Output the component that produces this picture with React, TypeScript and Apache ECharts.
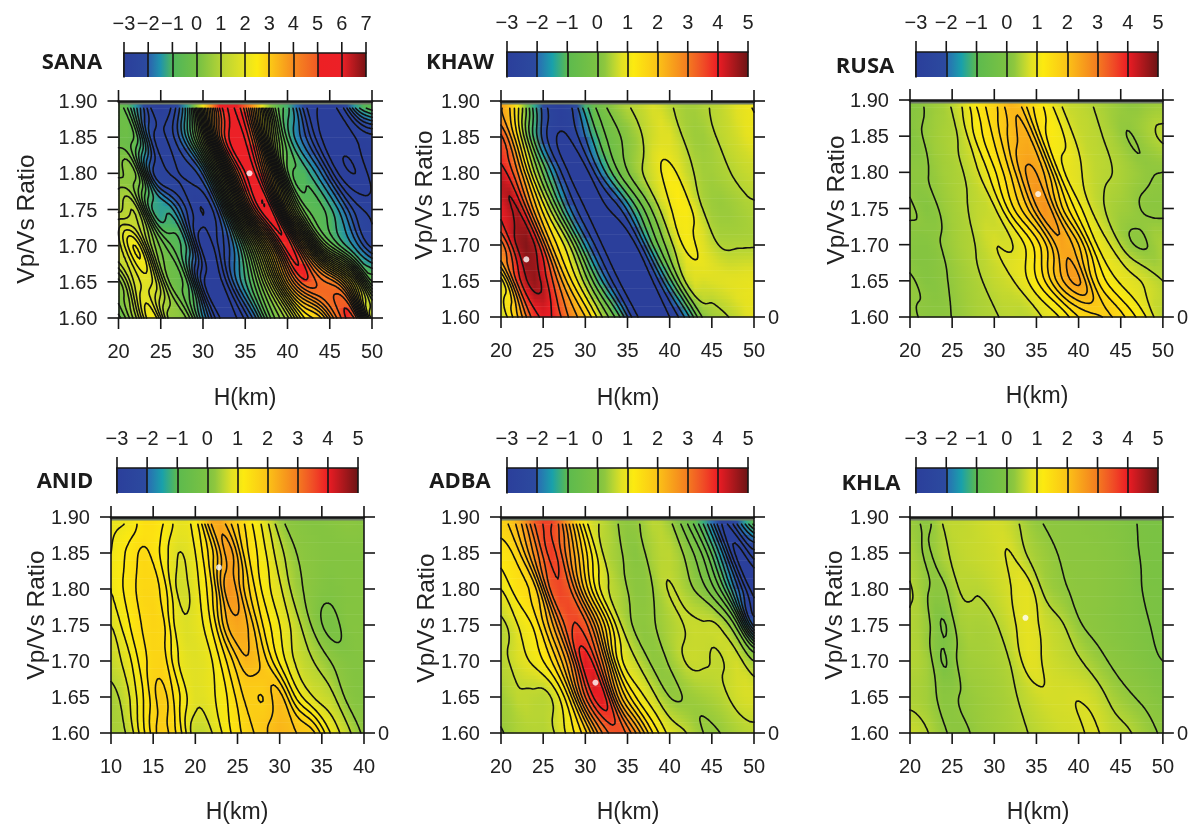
import React, { useEffect, useRef } from "react";
import * as echarts from "echarts";

// Vp/Vs rows of every field, top to bottom
const vpvsRows = [1.9, 1.85, 1.8, 1.75, 1.7, 1.65, 1.6];
const vpvsTicks = [1.6, 1.65, 1.7, 1.75, 1.8, 1.85, 1.9];

const sanaField = [
  [-0.2, -1.5, -3, -2.8, -1.2, 2.5, 5.4, 5.5, 3.5, 0, -1.2, -2.7, -3, -2.8, -1, -0.3],
  [-0.2, -0.4, -2.6, -2.6, -1.5, 0.8, 4.8, 5.9, 4.8, 1.2, -1, -2, -3, -3.2, -3, -2.8],
  [0.2, 0.3, -2.3, -2.7, -2.6, -2, 1, 4.8, 5.8, 3.5, -0.5, -1, -1.8, -3, -3.3, -2.9],
  [0.8, 1.1, -1.2, -1.3, -2.4, -3, -2, 1.5, 5, 5.8, 2, -0.4, -0.8, -1.5, -2.5, -2.8],
  [1.4, 2.4, 0.5, -0.5, -1.2, -3.2, -2.6, -1.5, 0.8, 3.4, 5.6, 3.5, 0.5, -0.8, -1.6, -2.5],
  [0.2, 1.6, 1.8, 0, -0.5, -2.9, -3.1, -1.8, -0.6, 1.2, 3.6, 5, 4.6, 4, 2, -0.6],
  [-0.4, 0.8, 2.4, 0.5, 0.3, -1.5, -3, -3, -2, -0.3, 0.8, 2.4, 3, 4.6, 5, 1],
];
const khawField = [
  [2.6, 1, -1.5, -2.8, -2.6, -1, -0.05, 0.42, 0.55, 0.75, 0.52, 0.38, 0.47, 0.6, 0.85, 1.05],
  [3.6, 1.5, -1.2, -2.8, -3, -2, -0.7, -0.05, 0.35, 0.7, 0.8, 0.42, 0.35, 0.55, 0.7, 0.95],
  [4.3, 3, 0.5, -1.5, -3, -3.2, -1.8, -0.5, 0.3, 0.72, 1.15, 0.65, 0.38, 0.42, 0.55, 0.65],
  [4, 4.5, 2.3, 0.3, -1.8, -3, -3.1, -2.6, -1.1, 0.1, 0.95, 1.15, 0.48, 0.32, 0.38, 0.48],
  [2.8, 4.6, 4.5, 2, 0.6, -1.6, -3, -3.3, -3, -1, 0.3, 1.1, 0.8, 0.48, 0.47, 0.48],
  [0.8, 3.7, 4.7, 3.6, 1.8, 0.3, -1.5, -3, -3.1, -3, -1.2, 0.6, 0.75, 0.8, 0.85, 0.9],
  [0.6, 2, 3.8, 4, 3, 2, 0.5, -0.9, -2.9, -3, -3, -1.8, 0.1, 0.4, 0.6, 0.9],
];
const rusaField = [
  [0.12, 0.3, 0.42, 0.75, 1.35, 1.7, 2.2, 1.6, 1.15, 0.7, 0.58, 0.47, 0.35, 0.23, 0.3, 0.35],
  [0.1, 0.3, 0.42, 0.55, 1.1, 1.55, 2.1, 2.3, 1.3, 1.05, 0.65, 0.55, 0.42, 0.24, 0.38, 0.55],
  [0.22, 0.24, 0.38, 0.47, 0.72, 1.2, 1.8, 2.55, 2.2, 1.1, 0.8, 0.58, 0.5, 0.38, 0.27, 0.25],
  [0.3, 0.12, 0.32, 0.44, 0.58, 0.72, 1.4, 2, 2.7, 1.8, 1.1, 0.65, 0.42, 0.33, 0.22, 0.2],
  [0.15, 0.12, 0.28, 0.42, 0.52, 0.74, 0.73, 1.1, 1.7, 2.45, 2, 1.05, 0.7, 0.3, 0.24, 0.45],
  [0.3, 0.12, 0.22, 0.35, 0.46, 0.6, 0.72, 1, 1.5, 2.2, 2.55, 1.6, 1.1, 0.85, 0.7, 0.5],
  [0.3, 0.2, 0.22, 0.3, 0.42, 0.48, 0.55, 0.55, 0.8, 1.05, 1.5, 1.7, 1.75, 1.4, 1, 0.52],
];
const anidField = [
  [0.9, 1, 1.45, 1.3, 0.9, 1.2, 2.4, 2, 1.4, 0.9, 0.3, 0.15, 0.1, 0.15, 0.2, 0.15],
  [1, 1.3, 1.55, 1.2, 0.75, 1, 1.7, 2.6, 1.6, 1.1, 0.6, 0.25, 0.15, 0.1, 0.1, 0.1],
  [1, 1.35, 1.6, 1.45, 0.7, 0.9, 1.5, 2.7, 1.9, 1.2, 0.8, 0.35, 0.15, 0.05, 0.1, 0.1],
  [0.75, 1.2, 1.55, 1.6, 0.85, 0.85, 1.3, 2.3, 2.3, 1.5, 1, 0.6, 0.2, -0.1, 0.1, 0.1],
  [0.6, 0.9, 1.45, 1.65, 1, 0.8, 1, 1.6, 2.2, 1.9, 1.2, 0.7, 0.5, 0.25, 0.1, 0.1],
  [0.4, 0.7, 1.3, 1.85, 1.3, 0.8, 0.95, 1.3, 1.8, 1.75, 2.1, 1.2, 0.75, 0.6, 0.2, 0.1],
  [0.4, 0.55, 1.25, 1.85, 1.4, 0.6, 0.75, 1.2, 1.6, 1.9, 2.2, 2, 1.8, 1, 0.6, 0.2],
];
const adbaField = [
  [1.7, 2.3, 3.4, 3.6, 2.3, 0.9, 0.55, 0.28, 0.27, 0.55, 0.3, -0.4, -1.4, -2.7, -1.8, -0.4],
  [1.3, 1.7, 2.8, 3.7, 2.8, 1.6, 0.62, 0.35, 0.15, 0.45, 0.55, 0.2, -0.4, -1.6, -3.1, -2.5],
  [0.9, 1.4, 1.7, 3.4, 3.4, 2, 0.8, 0.45, 0.2, 0.3, 0.62, 0.4, 0.1, -0.6, -2, -3.2],
  [0.5, 0.9, 1.3, 2.3, 3.5, 3.4, 2, 0.7, 0.25, 0.28, 0.45, 0.62, 0.62, 0.55, -0.2, -2.5],
  [0.5, 0.75, 1, 1.5, 2.6, 4.1, 3, 1.1, 0.62, 0.25, 0.33, 0.62, 0.62, 0.58, 0.7, 0.3],
  [0.35, 0.58, 0.55, 0.62, 1.5, 3.3, 4.1, 2.3, 1.2, 0.7, 0.3, 0.32, 0.4, 0.5, 0.7, 0.75],
  [0.28, 0.45, 0.5, 0.55, 1, 1.7, 3, 3.5, 2.7, 1.5, 0.8, 0.6, 0.3, 0.3, 0.45, 0.55],
];
const khlaField = [
  [0.35, 0.2, 0.55, 0.58, 0.65, 0.7, 0.6, 0.33, 0.23, 0.2, 0.17, 0.14, 0.1, 0.04, -0.05, -0.02],
  [0.45, 0.22, 0.45, 0.58, 0.63, 0.68, 0.75, 0.47, 0.33, 0.23, 0.2, 0.18, 0.14, 0.07, -0.04, -0.06],
  [0.52, 0.27, 0.22, 0.52, 0.52, 0.62, 0.75, 0.85, 0.42, 0.28, 0.22, 0.2, 0.14, 0.08, -0.02, -0.06],
  [0.5, 0.32, -0.02, 0.4, 0.42, 0.47, 0.68, 0.88, 0.66, 0.53, 0.28, 0.2, 0.14, 0.08, 0.02, -0.06],
  [0.5, 0.38, -0.02, 0.32, 0.38, 0.42, 0.52, 0.85, 0.72, 0.62, 0.53, 0.35, 0.22, 0.14, 0.06, 0],
  [0.45, 0.38, 0.18, 0.26, 0.33, 0.38, 0.45, 0.6, 0.72, 0.72, 0.74, 0.65, 0.42, 0.28, 0.2, 0.1],
  [0.65, 0.52, 0.28, 0.2, 0.3, 0.36, 0.42, 0.5, 0.6, 0.68, 0.72, 0.78, 0.6, 0.52, 0.35, 0.22],
];

// colour palettes: value -> colour
const paletteWide: [number, string][] = [
  [-3, "#2b3f9b"], [-2.02, "#2c4a9f"], [-2, "#2d5fae"], [-1.5, "#1f93ad"], [-1, "#4fb65a"], [0, "#72bf44"],
  [1, "#b5d335"], [2, "#e6e322"], [2.5, "#fcea10"], [3, "#fccb16"], [4, "#f68b1f"], [5, "#f15a24"],
  [5.05, "#ed2024"], [6, "#ec2027"], [7, "#7a1315"],
];
const paletteNarrow: [number, string][] = [
  [-3, "#2b3f9b"], [-2.02, "#2c4a9f"], [-2, "#2b6ab3"], [-1.5, "#19a0ab"], [-1, "#5cba4e"], [0, "#7cc242"],
  [0.25, "#8fc73e"], [0.5, "#b4d434"], [0.8, "#e0e024"], [1.2, "#fcea10"], [2, "#fbc317"], [3, "#f47b20"], [3.5, "#f04e26"],
  [4, "#ed1c24"], [5, "#6d1415"],
];

const panels = [
  { name: "SANA", field: sanaField, xMin: 20, palette: paletteWide, barMax: 7, best: [35.5, 1.8], zero: false, step: 0.3, shear: 2,
    plot: [118.5, 101, 253.5, 217], bar: [124, 53, 242, 24], nameAt: [72, 60], yLab: [25, 219], xLab: [245, 397] },
  { name: "KHAW", field: khawField, xMin: 20, palette: paletteNarrow, barMax: 5, best: [23, 1.68], zero: true, step: 0.5, shear: 2,
    plot: [501, 101, 253, 216], bar: [507, 52, 241, 25], nameAt: [460, 60], yLab: [423, 195], xLab: [628, 397] },
  { name: "RUSA", field: rusaField, xMin: 20, palette: paletteNarrow, barMax: 5, best: [35.2, 1.77], zero: true, step: 0.25, shear: 2,
    plot: [910, 100, 253, 217], bar: [916, 52, 242, 25], nameAt: [865, 64], yLab: [835, 200], xLab: [1037, 395] },
  { name: "ANID", field: anidField, xMin: 10, palette: paletteNarrow, barMax: 5, best: [22.8, 1.83], zero: true, step: 0.25, shear: 1.2,
    plot: [111, 517, 253, 216], bar: [117, 468, 241, 25], nameAt: [65, 479], yLab: [35, 615], xLab: [237, 811] },
  { name: "ADBA", field: adbaField, xMin: 20, palette: paletteNarrow, barMax: 5, best: [31.2, 1.67], zero: true, step: 0.3, shear: 1.6,
    plot: [501, 517, 253, 216], bar: [507, 468, 241, 25], nameAt: [460, 479], yLab: [425, 618], xLab: [628, 811] },
  { name: "KHLA", field: khlaField, xMin: 20, palette: paletteNarrow, barMax: 5, best: [33.7, 1.76], zero: true, step: 0.25, shear: 1.2,
    plot: [910, 517, 254, 216], bar: [916, 468, 242, 25], nameAt: [871, 481], yLab: [833, 615], xLab: [1038, 811] },
];

const FONT = '"Liberation Sans", Arial, sans-serif';
const INK = "#161616";
const TICK = 11;

function hexRgb(h: string) {
  return [parseInt(h.slice(1, 3), 16), parseInt(h.slice(3, 5), 16), parseInt(h.slice(5, 7), 16)];
}
function colourOf(v: number, pal: [number, string][]) {
  if (v <= pal[0][0]) return pal[0][1];
  for (let i = 1; i < pal.length; i++) {
    if (v <= pal[i][0]) {
      const t = (v - pal[i - 1][0]) / (pal[i][0] - pal[i - 1][0]);
      const a = hexRgb(pal[i - 1][1]);
      const b = hexRgb(pal[i][1]);
      return `rgb(${Math.round(a[0] + (b[0] - a[0]) * t)},${Math.round(a[1] + (b[1] - a[1]) * t)},${Math.round(a[2] + (b[2] - a[2]) * t)})`;
    }
  }
  return pal[pal.length - 1][1];
}

function spline(p: number[], tRaw: number) {
  const n = p.length;
  const t = Math.min(Math.max(tRaw, 0), n - 1);
  const i = Math.min(Math.floor(t), n - 2);
  const f = t - i;
  const a = p[Math.max(i - 1, 0)], b = p[i], c = p[i + 1], d = p[Math.min(i + 2, n - 1)];
  return 0.5 * (2 * b + (c - a) * f + (2 * a - 5 * b + 4 * c - d) * f * f + (3 * b - a - 3 * c + d) * f * f * f);
}

// smooth sampling of the measured matrix, following the slant of its ridges
const SUBX = 8;
const SUBY = 20;
function resample(field: number[][], shearKm: number) {
  const s = shearKm / 2;
  const rows: number[][] = [];
  const nRows = field.length, nCols = field[0].length;
  for (let j = 0; j <= (nRows - 1) * SUBY; j++) {
    const t = j / SUBY;
    const base = Math.min(Math.floor(t), nRows - 2);
    const r: number[] = [];
    for (let i = 0; i <= (nCols - 1) * SUBX; i++) {
      const u = i / SUBX;
      const column: number[] = [];
      for (let k = base - 1; k <= base + 2; k++) {
        const kk = Math.min(Math.max(k, 0), nRows - 1);
        column.push(spline(field[kk], u + s * (kk - t)));
      }
      r.push(spline(column, 1 + (t - base)));
    }
    rows.push(r);
  }
  return rows;
}

function contourPath(g: number[][], level: number, sx: (i: number) => number, sy: (j: number) => number, jStart: number) {
  const parts: string[] = [];
  const lerp = (a: number, b: number) => (level - a) / (b - a);
  for (let j = jStart; j < g.length - 1; j++) {
    for (let i = 0; i < g[0].length - 1; i++) {
      const a = g[j][i], b = g[j][i + 1], c = g[j + 1][i + 1], d = g[j + 1][i];
      const idx = (a >= level ? 1 : 0) | (b >= level ? 2 : 0) | (c >= level ? 4 : 0) | (d >= level ? 8 : 0);
      if (idx === 0 || idx === 15) continue;
      const T = () => [sx(i + lerp(a, b)), sy(j)];
      const R = () => [sx(i + 1), sy(j + lerp(b, c))];
      const B = () => [sx(i + lerp(d, c)), sy(j + 1)];
      const L = () => [sx(i), sy(j + lerp(a, d))];
      const segs: (() => number[])[][] = [];
      switch (idx) {
        case 1: case 14: segs.push([L, T]); break;
        case 2: case 13: segs.push([T, R]); break;
        case 3: case 12: segs.push([L, R]); break;
        case 4: case 11: segs.push([R, B]); break;
        case 6: case 9: segs.push([T, B]); break;
        case 7: case 8: segs.push([L, B]); break;
        case 5: segs.push([L, T], [R, B]); break;
        case 10: segs.push([T, R], [L, B]); break;
      }
      for (const [p, q] of segs) {
        const u = p(), v = q();
        parts.push(`M${u[0].toFixed(1)} ${u[1].toFixed(1)}L${v[0].toFixed(1)} ${v[1].toFixed(1)}`);
      }
    }
  }
  return parts.join("");
}

const tickLine = (x1: number, y1: number, x2: number, y2: number) => ({
  type: "line", silent: true, z2: 30,
  shape: { x1, y1, x2, y2 },
  style: { stroke: INK, lineWidth: 1.6 },
});

function buildOption() {
  const grid: any[] = [], xAxis: any[] = [], yAxis: any[] = [], series: any[] = [], graphic: any[] = [];
  const axisLine = { show: true, onZero: false, lineStyle: { color: INK, width: 1.6 } };
  const noTick = { show: false };
  const label = { color: "#222", fontFamily: FONT, fontSize: 20 };

  panels.forEach((p) => {
    const g = grid.length;
    const xMax = p.xMin + 30;
    const xTicks = [0, 5, 10, 15, 20, 25, 30].map((d) => p.xMin + d);
    const barTicks: number[] = [];
    for (let v = -3; v <= p.barMax; v++) barTicks.push(v);

    grid.push({ left: p.plot[0], top: p.plot[1], width: p.plot[2], height: p.plot[3] });
    grid.push({ left: p.bar[0], top: p.bar[1], width: p.bar[2], height: p.bar[3] });

    const x0 = xAxis.length;
    xAxis.push({
      type: "value", gridIndex: g, position: "bottom", min: p.xMin, max: xMax, interval: 5, z: 10,
      axisLine, axisTick: noTick, splitLine: { show: false },
      axisLabel: { ...label, margin: 23, showMinLabel: true, showMaxLabel: true },
    });
    xAxis.push({
      type: "value", gridIndex: g, position: "top", min: p.xMin, max: xMax, interval: 5, z: 10,
      axisLine: { ...axisLine, lineStyle: { color: INK, width: 2.6 } }, axisTick: noTick,
      splitLine: { show: false }, axisLabel: { show: false },
    });
    xAxis.push({
      type: "value", gridIndex: g + 1, position: "top", min: -3, max: p.barMax, interval: 1, z: 10,
      axisLine, axisTick: noTick,
      splitLine: { show: true, lineStyle: { color: INK, width: 1.6 } },
      axisLabel: {
        ...label, margin: 20, showMinLabel: true, showMaxLabel: true,
        formatter: (v: number) => (v < 0 ? "\u2212" + Math.abs(v) : String(v)),
      },
    });
    const y0 = yAxis.length;
    yAxis.push({
      type: "value", gridIndex: g, position: "left", min: 1.6, max: 1.9, interval: 0.05, z: 10,
      axisLine, axisTick: noTick, splitLine: { show: false },
      axisLabel: { ...label, margin: 21, showMinLabel: true, showMaxLabel: true, formatter: (v: number) => v.toFixed(2) },
    });
    yAxis.push({
      type: "value", gridIndex: g, position: "right", min: 1.6, max: 1.9, interval: 0.05, z: 10,
      axisLine, axisTick: noTick, splitLine: { show: false },
      axisLabel: p.zero
        ? { ...label, margin: 14, showMinLabel: true, formatter: (v: number) => (Math.abs(v - 1.6) < 1e-6 ? "0" : "") }
        : { show: false },
    });
    yAxis.push({
      type: "value", gridIndex: g + 1, min: 0, max: 1,
      axisLine, axisTick: noTick, splitLine: { show: false }, axisLabel: { show: false },
    });

    const fine = resample(p.field, p.shear);
    const nx = fine[0].length, ny = fine.length;
    const cells: number[][] = [];
    p.field.forEach((row, j) => row.forEach((v, i) => cells.push([p.xMin + i * 2, vpvsRows[j], v])));

    series.push({
      type: "custom", coordinateSystem: "cartesian2d", xAxisIndex: x0, yAxisIndex: y0, clip: false, silent: true, z: 2,
      data: cells,
      renderItem: (params: any, api: any) => {
        if (params.dataIndex !== 0) return null;
        const tl = api.coord([p.xMin, 1.9]);
        const br = api.coord([xMax, 1.6]);
        const sx = (i: number) => tl[0] + ((br[0] - tl[0]) * i) / (nx - 1);
        const sy = (j: number) => tl[1] + ((br[1] - tl[1]) * j) / (ny - 1);
        const children: any[] = [];
        for (let j = 0; j < ny - 1; j += 2) {
          const row = fine[j + 1 < ny ? j + 1 : j];
          const colorStops: any[] = [];
          for (let i = 0; i < nx; i += 4) colorStops.push({ offset: i / (nx - 1), color: colourOf(row[i], p.palette) });
          const yA = sy(j), yB = sy(Math.min(j + 2, ny - 1));
          children.push({
            type: "rect", silent: true,
            shape: { x: tl[0], y: yA, width: br[0] - tl[0], height: yB - yA + 0.6 },
            style: { fill: { type: "linear", x: 0, y: 0, x2: 1, y2: 0, colorStops, global: false } },
          });
        }
        const stripY = sy((ny - 1) * 0.0167);
        children.push({
          type: "rect", silent: true,
          shape: { x: tl[0], y: tl[1], width: br[0] - tl[0], height: stripY - tl[1] },
          style: { fill: "#6f7a68" },
        });
        const jStart = Math.round((ny - 1) * (0.01 / 0.3));
        let lo = Infinity, hi = -Infinity;
        fine.forEach((r) => r.forEach((v) => { if (v < lo) lo = v; if (v > hi) hi = v; }));
        for (let k = Math.ceil(lo / p.step); k * p.step <= hi; k++) {
          const d = contourPath(fine, k * p.step + 1e-4, sx, sy, jStart);
          if (d) {
            children.push({
              type: "path", silent: true, shape: { pathData: d },
              style: { fill: "none", stroke: "#121212", lineWidth: 1.6, lineCap: "round" },
            });
          }
        }
        xTicks.forEach((v) => {
          const c = api.coord([v, 1.6]);
          children.push(tickLine(c[0], br[1], c[0], br[1] + TICK));
          children.push(tickLine(c[0], tl[1], c[0], tl[1] - TICK));
        });
        vpvsTicks.forEach((v) => {
          const c = api.coord([p.xMin, v]);
          children.push(tickLine(tl[0] - TICK, c[1], tl[0], c[1]));
          children.push(tickLine(br[0], c[1], br[0] + TICK, c[1]));
        });
        return { type: "group", children };
      },
      encode: { x: 0, y: 1 },
    });

    series.push({
      type: "scatter", xAxisIndex: x0, yAxisIndex: y0, symbolSize: 6, silent: true, z: 5,
      itemStyle: { color: "#ffffff" }, data: [p.best],
    });

    const barData = p.palette.map((s) => [s[0], 0.5]);
    series.push({
      type: "custom", coordinateSystem: "cartesian2d", xAxisIndex: x0 + 2, yAxisIndex: y0 + 2, clip: false, silent: true, z: 2,
      data: barData,
      renderItem: (params: any, api: any) => {
        if (params.dataIndex !== 0) return null;
        const a = api.coord([-3, 1]);
        const b = api.coord([p.barMax, 0]);
        const colorStops = p.palette
          .filter((s) => s[0] <= p.barMax)
          .map((s) => ({ offset: (s[0] + 3) / (p.barMax + 3), color: s[1] }));
        const children: any[] = [{
          type: "rect",
          shape: { x: a[0], y: a[1], width: b[0] - a[0], height: b[1] - a[1] },
          style: { fill: { type: "linear", x: 0, y: 0, x2: 1, y2: 0, colorStops, global: false } },
        }];
        barTicks.forEach((v) => {
          const c = api.coord([v, 1]);
          children.push(tickLine(c[0], a[1], c[0], a[1] - TICK));
        });
        return { type: "group", children };
      },
      encode: { x: 0, y: 1 },
    });

    const textStyle = (text: string, font: string) => ({
      text, font, fill: "#222", align: "center", verticalAlign: "middle", textAlign: "center", textVerticalAlign: "middle",
    });
    graphic.push({
      type: "text", x: p.nameAt[0], y: p.nameAt[1], silent: true, z: 20,
      style: { ...textStyle(p.name, `bold 22px "Open Sans", ${FONT}`), fill: "#1b1b1b" },
    });
    graphic.push({
      type: "text", x: p.yLab[0], y: p.yLab[1], rotation: Math.PI / 2, silent: true, z: 20,
      style: textStyle("Vp/Vs Ratio", `24.5px ${FONT}`),
    });
    graphic.push({
      type: "text", x: p.xLab[0], y: p.xLab[1], silent: true, z: 20,
      style: textStyle("H(km)", `23px ${FONT}`),
    });
  });

  return { animation: false, backgroundColor: "#ffffff", grid, xAxis, yAxis, series, graphic };
}

export default function App() {
  const ref = useRef<HTMLDivElement>(null);
  useEffect(() => {
    document.body.style.margin = "0";
    const chart = echarts.init(ref.current!, undefined, { renderer: "svg" });
    chart.setOption(buildOption() as any);
    return () => chart.dispose();
  }, []);
  return <div ref={ref} style={{ width: 1191, height: 825, filter: "blur(0.4px)" }} />;
}
